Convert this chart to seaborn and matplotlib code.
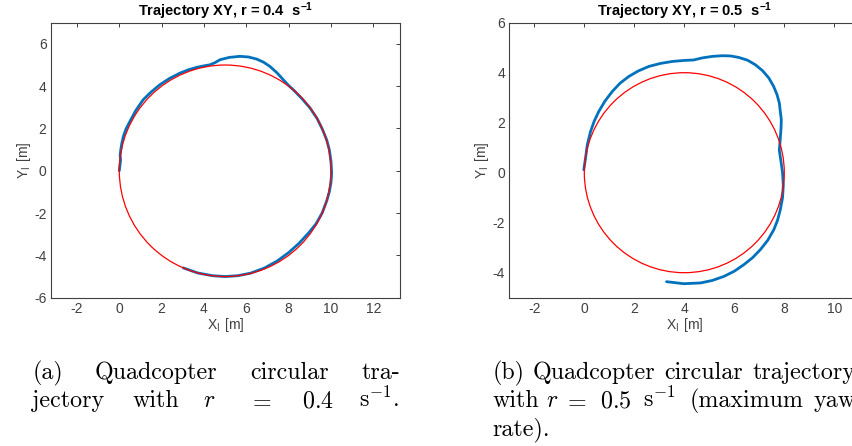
import numpy as np
import pandas as pd
import matplotlib
matplotlib.use("Agg")
import matplotlib.pyplot as plt
from matplotlib.patches import Circle
import seaborn as sns

# ---- flown trajectory, r = 0.4 s^-1 (reference circle centre (5, 0), radius 5)
traj_a_x = [0.00, 0.03, 0.06, 0.04, 0.07, 0.12, 0.19, 0.32, 0.50, 0.78, 1.13, 1.50,
            1.92, 2.38, 2.87, 3.28, 3.66, 4.00, 4.28, 4.50, 4.76, 5.20, 5.70, 6.10,
            6.49, 6.82, 7.12, 7.45, 7.75, 8.00, 8.22, 8.62, 9.01, 9.35, 9.60, 9.80,
            9.92, 10.00, 10.03, 10.00, 9.92, 9.80, 9.58, 9.30, 8.95, 8.50, 8.00,
            7.45, 6.85, 6.20, 5.60, 5.00, 4.40, 3.70, 3.02]
traj_a_y = [0.00, 0.25, 0.50, 0.75, 0.99, 1.30, 1.62, 1.98, 2.33, 2.85, 3.36, 3.72,
            4.07, 4.37, 4.62, 4.78, 4.89, 4.96, 5.01, 5.10, 5.25, 5.36, 5.41, 5.38,
            5.28, 5.13, 4.93, 4.63, 4.30, 4.03, 3.83, 3.42, 2.97, 2.46, 1.95, 1.45,
            1.00, 0.45, -0.11, -0.55, -1.00, -1.42, -2.00, -2.50, -2.93, -3.42,
            -3.87, -4.27, -4.60, -4.84, -4.96, -5.00, -4.96, -4.83, -4.59]
ref_a_center = (5.0, 0.0)
ref_a_radius = 5.0

# ---- flown trajectory, r = 0.5 s^-1 (reference circle centre (4, 0), radius 4)
traj_b_x = [-0.02, 0.05, 0.12, 0.25, 0.40, 0.58, 0.83, 1.12, 1.43, 1.78, 2.16, 2.58,
            3.04, 3.52, 3.98, 4.38, 4.50, 4.71, 5.10, 5.51, 5.85, 6.18, 6.53, 6.84,
            7.13, 7.38, 7.57, 7.71, 7.80, 7.84, 7.88, 7.87, 7.83, 7.80, 7.86, 7.93,
            7.96, 7.93, 7.84, 7.73, 7.58, 7.34, 7.04, 6.73, 6.38, 6.00, 5.58, 5.12,
            4.65, 3.98, 3.29]
traj_b_y = [0.12, 0.59, 1.12, 1.65, 2.07, 2.45, 2.87, 3.25, 3.58, 3.85, 4.07, 4.25,
            4.37, 4.45, 4.49, 4.51, 4.54, 4.59, 4.65, 4.68, 4.67, 4.61, 4.50, 4.32,
            4.08, 3.79, 3.46, 3.12, 2.79, 2.45, 2.12, 1.79, 1.25, 0.90, 0.50, 0.00,
            -0.50, -1.00, -1.48, -1.90, -2.28, -2.70, -3.08, -3.40, -3.68, -3.94,
            -4.15, -4.31, -4.41, -4.44, -4.36]
ref_b_center = (4.0, 0.0)
ref_b_radius = 4.0

titles = [r"Trajectory XY, r = 0.4  s$^{\mathbf{-1}}$",
          r"Trajectory XY, r = 0.5  s$^{\mathbf{-1}}$"]
x_label = r"X$_\mathregular{I}$ [m]"
y_label = r"Y$_\mathregular{I}$ [m]"

xlim_a, ylim_a = (-3.24, 13.26), (-6.0, 7.0)
xticks_a, yticks_a = list(range(-2, 13, 2)), list(range(-6, 7, 2))
xlim_b, ylim_b = (-3.0, 11.0), (-5.0, 6.0)
xticks_b, yticks_b = list(range(-2, 11, 2)), list(range(-4, 7, 2))

sns.set_theme(style="white")
plt.rcParams["font.family"] = ["Liberation Sans", "DejaVu Sans"]
plt.rcParams["axes.unicode_minus"] = False
# math: Computer Modern for the captions, bold sans for the title exponents
plt.rcParams["mathtext.fontset"] = "custom"
plt.rcParams["mathtext.rm"] = "cmr10"
plt.rcParams["mathtext.it"] = "cmmi10"
plt.rcParams["mathtext.bf"] = "Liberation Sans:bold"
plt.rcParams["mathtext.sf"] = "Liberation Sans"
plt.rcParams["mathtext.fallback"] = "cm"

W, H = 852, 446
fig = plt.figure(figsize=(W / 100, H / 100), dpi=100)
fig.patch.set_facecolor("white")

BLUE = "#0072BD"
RED = "#FF0000"
AX_COLOR = "#404040"


def px_rect(left, top, right, bottom):
    return [left / W, 1 - bottom / H, (right - left) / W, (bottom - top) / H]


def draw_panel(ax, tx, ty, center, radius, title, xlim, ylim, xticks, yticks):
    df = pd.DataFrame({"x": tx, "y": ty})
    sns.lineplot(data=df, x="x", y="y", sort=False, estimator=None, ax=ax,
                 color=BLUE, linewidth=2.0, solid_capstyle="round",
                 solid_joinstyle="round", zorder=2)
    ax.add_patch(Circle(center, radius, fill=False, edgecolor=RED,
                        linewidth=0.9, zorder=3))
    ax.set_xlim(*xlim)
    ax.set_ylim(*ylim)
    ax.set_xticks(xticks)
    ax.set_yticks(yticks)
    ax.set_xticklabels([str(v) for v in xticks])
    ax.set_yticklabels([str(v) for v in yticks])
    ax.set_xlabel(x_label, fontsize=10, color=AX_COLOR, labelpad=0)
    ax.set_ylabel(y_label, fontsize=10, color=AX_COLOR, labelpad=1)
    ax.set_title(title, fontsize=10.5, fontweight="bold", color="black", pad=5)
    ax.tick_params(direction="in", length=3, width=0.7, colors=AX_COLOR,
                   labelsize=10, top=True, right=True, pad=3)
    for sp in ax.spines.values():
        sp.set_color(AX_COLOR)
        sp.set_linewidth(0.8)
    ax.set_facecolor("white")


ax_a = fig.add_axes(px_rect(50.7, 22.7, 400.0, 297.7))
draw_panel(ax_a, traj_a_x, traj_a_y, ref_a_center, ref_a_radius, titles[0],
           xlim_a, ylim_a, xticks_a, yticks_a)

ax_b = fig.add_axes(px_rect(509.3, 22.7, 859.3, 297.7))
draw_panel(ax_b, traj_b_x, traj_b_y, ref_b_center, ref_b_radius, titles[1],
           xlim_b, ylim_b, xticks_b, yticks_b)

# ---- sub-figure captions (LaTeX-like serif), set word by word
CAP = dict(fontsize=17.3, family="cmr10", color="black", va="baseline")


def cap(x, y, s, ha="left"):
    fig.text(x / W, 1 - y / H, s, ha=ha, **CAP)


# caption (a), justified over two lines
cap(33, 379, "(a)")
cap(95, 379, "Quadcopter")
cap(250, 379, "circular")
cap(400, 379, "tra-", ha="right")
cap(32, 407, "jectory")
cap(133, 407, "with")
cap(203, 407, r"$r$")
cap(248, 407, r"$=$")
cap(302, 407, r"$0.4$")
cap(399, 407, r"s$^{-1}$.", ha="right")

# caption (b), running past the right page edge
cap(492.7, 379, "(b)")
cap(532.7, 379, "Quadcopter")
cap(664, 379, "circular")
cap(752.7, 379, "trajectory")
cap(492.7, 407, "with")
cap(546, 407, r"$r$")
cap(563, 407, r"$=$")
cap(600, 407, r"$0.5$")
cap(643, 407, r"s$^{-1}$")
cap(690, 407, "(maximum")
cap(814, 407, "yaw")
cap(492.7, 435, "rate).")

fig.savefig("out.png", dpi=100, facecolor="white")
